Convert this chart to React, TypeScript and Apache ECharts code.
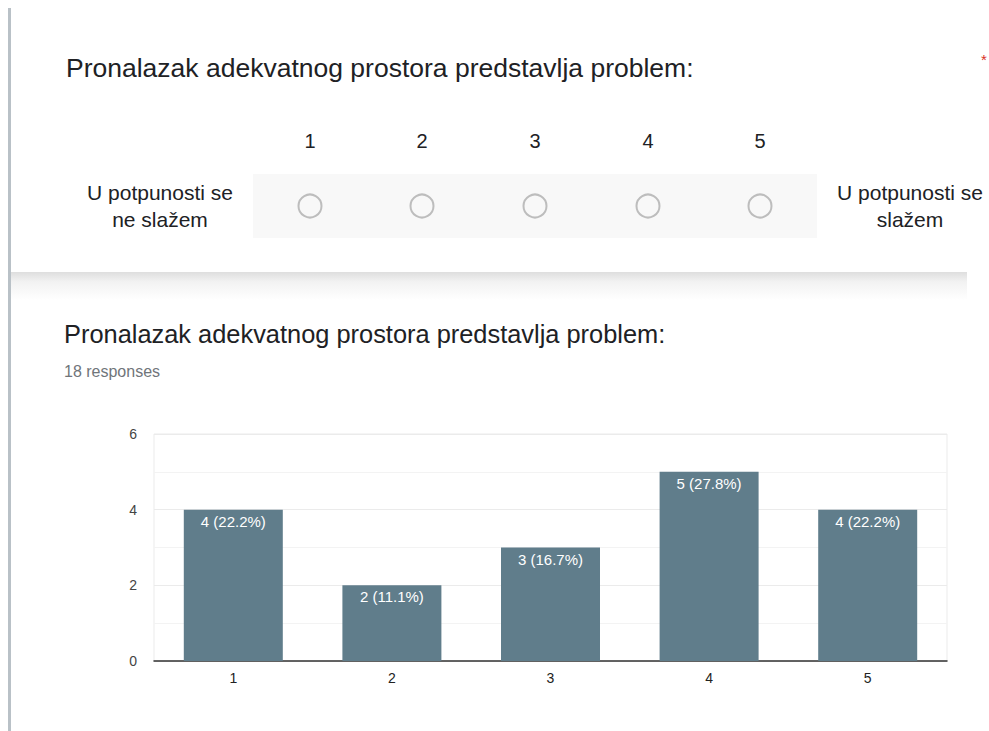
import React, { useEffect, useRef } from "react";
import * as echarts from "echarts";

const categories = ["1", "2", "3", "4", "5"];
const counts = [4, 2, 3, 5, 4];
const yTicks = [0, 2, 4, 6];
const scaleNumbers = ["1", "2", "3", "4", "5"];
const questionTitle = "Pronalazak adekvatnog prostora predstavlja problem:";
const leftLabel = ["U potpunosti se", "ne slažem"];
const rightLabel = ["U potpunosti se", "slažem"];
const responsesText = "18 responses";

const FONT = "Arial, 'Liberation Sans', sans-serif";

export default function App() {
  const ref = useRef<HTMLDivElement>(null);
  useEffect(() => {
    if (!ref.current) return;
    const chart = echarts.init(ref.current, null, { renderer: "svg" });
    const total = counts.reduce((a, b) => a + b, 0);
    const numX = [310, 422, 535, 648, 760];
    const graphics: any[] = [];
    graphics.push({ type: "rect", shape: { x: 8, y: 8, width: 3, height: 723 }, style: { fill: "#b9c1c7" }, z: 10 });
    graphics.push({
      type: "rect",
      shape: { x: 11, y: 272, width: 956, height: 28 },
      style: {
        fill: new echarts.graphic.LinearGradient(0, 0, 0, 1, [
          { offset: 0, color: "#dedede" },
          { offset: 0.35, color: "#f2f2f2" },
          { offset: 1, color: "#ffffff" },
        ]),
      },
      z: 1,
    });
    graphics.push({ type: "text", style: { text: questionTitle, x: 66, y: 68, font: `26.5px ${FONT}`, fill: "#202124", textVerticalAlign: "middle" } });
    graphics.push({ type: "text", style: { text: "*", x: 981, y: 59, font: `15px ${FONT}`, fill: "#d93025", textVerticalAlign: "middle" } });
    scaleNumbers.forEach((n, i) => {
      graphics.push({ type: "text", style: { text: n, x: numX[i], y: 141, font: `20px ${FONT}`, fill: "#202124", textAlign: "center", textVerticalAlign: "middle" } });
    });
    graphics.push({ type: "rect", shape: { x: 253, y: 174, width: 564, height: 64 }, style: { fill: "#f8f8f8" } });
    numX.forEach((x) => {
      graphics.push({ type: "circle", shape: { cx: x, cy: 206, r: 11.5 }, style: { fill: "none", stroke: "#bdbdbd", lineWidth: 2 } });
    });
    leftLabel.forEach((t, i) => {
      graphics.push({ type: "text", style: { text: t, x: 160, y: 192 + i * 27, font: `21px ${FONT}`, fill: "#202124", textAlign: "center", textVerticalAlign: "middle" } });
    });
    rightLabel.forEach((t, i) => {
      graphics.push({ type: "text", style: { text: t, x: 910, y: 192 + i * 27, font: `21px ${FONT}`, fill: "#202124", textAlign: "center", textVerticalAlign: "middle" } });
    });
    graphics.push({ type: "text", style: { text: questionTitle, x: 64, y: 334, font: `25.4px ${FONT}`, fill: "#202124", textVerticalAlign: "middle" } });
    graphics.push({ type: "text", style: { text: responsesText, x: 64, y: 371, font: `16px ${FONT}`, fill: "#70757a", textVerticalAlign: "middle" } });

    chart.setOption({
      animation: false,
      backgroundColor: "#ffffff",
      graphic: { elements: graphics },
      grid: { left: 154, right: 42, top: 434, bottom: 70, show: true, borderColor: "#ebebeb", borderWidth: 1 },
      xAxis: {
        type: "category",
        data: categories,
        axisLine: { lineStyle: { color: "#333333", width: 1.5 } },
        axisTick: { show: false },
        axisLabel: { color: "#222222", fontSize: 14, fontFamily: FONT, margin: 10 },
      },
      yAxis: {
        type: "value",
        min: 0,
        max: 6,
        interval: 1,
        axisLine: { show: false },
        axisTick: { show: false },
        axisLabel: {
          color: "#444444",
          fontSize: 14,
          fontFamily: FONT,
          margin: 17,
          formatter: (v: number) => (yTicks.includes(v) ? String(v) : ""),
        },
        splitLine: { lineStyle: { color: ["#ebebeb", "#f3f3f3", "#ebebeb", "#f3f3f3", "#ebebeb", "#f3f3f3", "#ebebeb"], width: 1 } },
      },
      series: [
        {
          type: "bar",
          data: counts,
          barWidth: 99,
          itemStyle: { color: "#607d8b" },
          label: {
            show: true,
            position: "insideTop",
            distance: 4,
            color: "#ffffff",
            fontSize: 15,
            fontFamily: FONT,
            formatter: (p: any) => `${p.value} (${((p.value / total) * 100).toFixed(1)}%)`,
          },
        },
      ],
    });
    return () => chart.dispose();
  }, []);
  return <div ref={ref} style={{ position: "fixed", left: 0, top: 0, width: 989, height: 731 }} />;
}
